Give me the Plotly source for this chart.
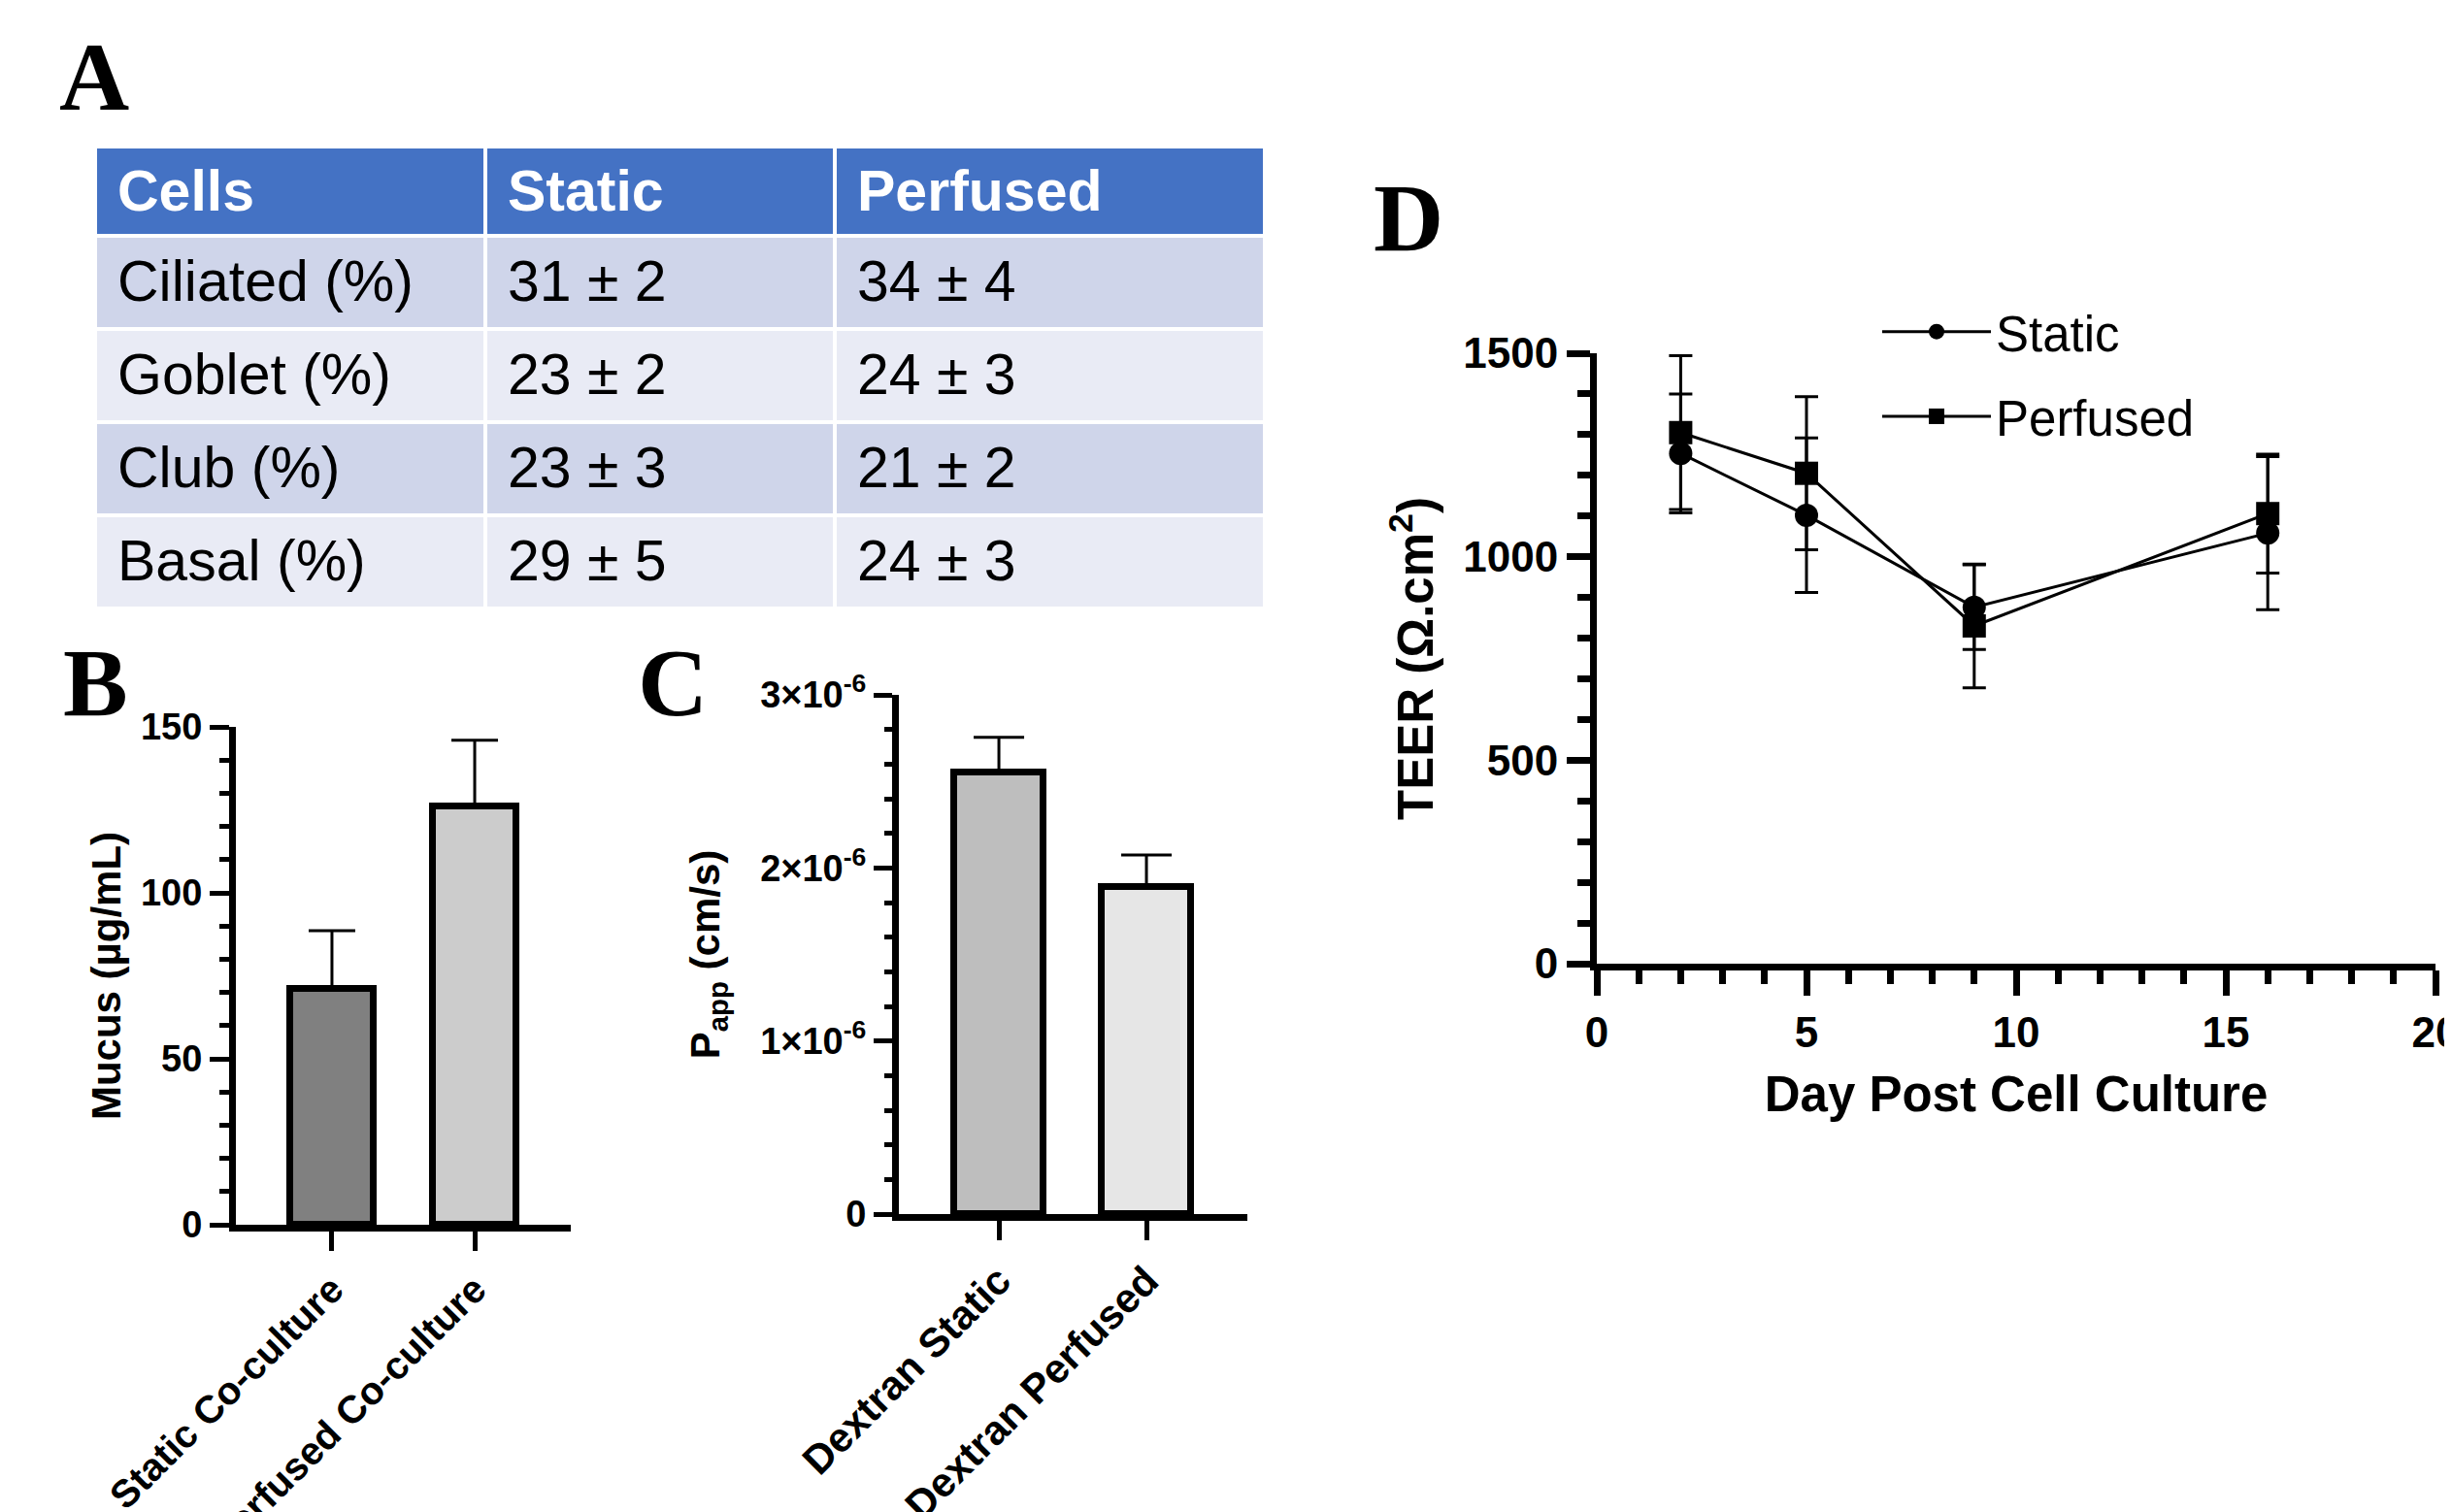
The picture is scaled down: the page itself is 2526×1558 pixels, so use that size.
import plotly.graph_objects as go

W, H = 2526, 1558

# ---------------- data ----------------
# Panel A (table)
table_header = ["Cells", "Static", "Perfused"]
cell_types = ["Ciliated (%)", "Goblet (%)", "Club (%)", "Basal (%)"]
static_pct = ["31 ± 2", "23 ± 2", "23 ± 3", "29 ± 5"]
perfused_pct = ["34 ± 4", "24 ± 3", "21 ± 2", "24 ± 3"]

# Panel B
mucus_groups = ["Static Co-culture", "Perfused Co-culture"]
mucus_mean = [71, 126]
mucus_sd = [17.6, 20]
mucus_ticks = [0, 50, 100, 150]

# Panel C
papp_groups = ["Dextran Static", "Dextran Perfused"]
papp_mean = [2.55e-6, 1.89e-6]
papp_sd = [0.205e-6, 0.185e-6]
papp_tickvals = [0, 1e-6, 2e-6, 3e-6]
papp_ticktext = ["0", "1×10<sup>-6</sup>", "2×10<sup>-6</sup>", "3×10<sup>-6</sup>"]

# Panel D
days = [2, 5, 9, 16]
teer_static = [1254, 1102, 876, 1058]
teer_static_sd = [146, 190, 104, 188]
teer_perfused = [1305, 1205, 830, 1106]
teer_perfused_sd = [189, 188, 152, 146]

# ---------------- helpers ----------------
SANS = "Liberation Sans, Arial, sans-serif"
SERIF = "Liberation Serif, Times New Roman, serif"
OFF = 8  # page body margin


def fx(px):
    return (px - OFF) / W


def fy(py):
    return 1 - (py - OFF) / H


fig = go.Figure()

# ---------------- Panel A: table ----------------
row_fill = ["#CFD5EA", "#E9EBF5", "#CFD5EA", "#E9EBF5"]
n_rows = len(cell_types)
col_w = [402, 360, 443]
# background layer: cell fills and white gaps
fig.add_trace(go.Table(
    domain=dict(x=[fx(98), fx(1303)], y=[fy(640), fy(151)]),
    columnwidth=col_w,
    header=dict(values=["" for _ in table_header], fill_color="#4472C4",
                line=dict(color="white", width=4), height=92),
    cells=dict(values=[["" for _ in range(n_rows)] for _ in table_header],
               fill_color=[row_fill] * len(table_header),
               line=dict(color="white", width=4), height=96),
))
# text layer (padded inside the cells)
fig.add_trace(go.Table(
    domain=dict(x=[fx(113), fx(1318)], y=[fy(650), fy(156)]),
    columnwidth=col_w,
    header=dict(
        values=[f"<b>{h}</b>" for h in table_header],
        fill_color="rgba(0,0,0,0)", line=dict(color="rgba(0,0,0,0)", width=0),
        align="left", font=dict(family=SANS, size=59, color="white"), height=102,
    ),
    cells=dict(
        values=[cell_types, static_pct, perfused_pct],
        fill_color="rgba(0,0,0,0)", line=dict(color="rgba(0,0,0,0)", width=0),
        align="left", font=dict(family=SANS, size=59, color="black"), height=96,
    ),
))

# ---------------- Panel B: mucus bars ----------------
fig.add_trace(go.Bar(
    x=mucus_groups, y=mucus_mean, xaxis="x", yaxis="y",
    width=0.585,
    marker=dict(color=["#808080", "#CCCCCC"], line=dict(color="black", width=7)),
    error_y=dict(type="data", symmetric=False, array=mucus_sd, arrayminus=[0, 0],
                 color="black", thickness=3, width=24),
    showlegend=False,
))

# ---------------- Panel C: Papp bars ----------------
fig.add_trace(go.Bar(
    x=papp_groups, y=papp_mean, xaxis="x2", yaxis="y2",
    width=0.6,
    marker=dict(color=["#BEBEBE", "#E6E6E6"], line=dict(color="black", width=7)),
    error_y=dict(type="data", symmetric=False, array=papp_sd, arrayminus=[0, 0],
                 color="black", thickness=3, width=26),
    showlegend=False,
))

# ---------------- Panel D: TEER lines ----------------
fig.add_trace(go.Scatter(
    x=days, y=teer_static, xaxis="x3", yaxis="y3", name="Static",
    mode="lines+markers", legendgroup="s",
    line=dict(color="black", width=3),
    marker=dict(symbol="circle", size=24, color="black"),
    error_y=dict(type="data", array=teer_static_sd, color="black", thickness=3, width=12),
))
fig.add_trace(go.Scatter(
    x=days, y=teer_perfused, xaxis="x3", yaxis="y3", name="Perfused",
    mode="lines+markers", legendgroup="p",
    line=dict(color="black", width=3),
    marker=dict(symbol="square", size=24, color="black"),
    error_y=dict(type="data", array=teer_perfused_sd, color="black", thickness=3, width=12),
))

bold = lambda s: dict(family=SANS, size=s, color="black", weight="bold")

axis_common = dict(showline=True, linecolor="black", showgrid=False, zeroline=False,
                   ticks="outside", tickcolor="black", automargin=False,
                   ticklabeloverflow="allow")

fig.update_layout(
    template="none",
    width=W, height=H,
    margin=dict(l=0, r=0, t=0, b=0, autoexpand=False),
    paper_bgcolor="white", plot_bgcolor="white",
    font=dict(family=SANS, color="black"),
    bargap=0,
    # Panel B
    xaxis=dict(**axis_common, domain=[fx(243), fx(588)], anchor="y", type="category",
               range=[-0.673, 1.673], linewidth=7, ticklen=20, tickwidth=5,
               tickangle=-45, tickfont=bold(40)),
    yaxis=dict(**axis_common, domain=[fy(1262), fy(749)], anchor="x",
               range=[0, 150], tickmode="array", tickvals=mucus_ticks,
               linewidth=7, ticklen=20, tickwidth=5, tickfont=bold(38),
               minor=dict(ticks="outside", tickmode="linear", tick0=0, dtick=10,
                          ticklen=10, tickwidth=5, tickcolor="black"),
               title=dict(text="Mucus (µg/mL)", font=bold(42), standoff=10)),
    # Panel C
    xaxis2=dict(**axis_common, domain=[fx(926), fx(1285)], anchor="y2", type="category",
                range=[-0.678, 1.684], linewidth=7, ticklen=20, tickwidth=5,
                tickangle=-45, tickfont=bold(42)),
    yaxis2=dict(**axis_common, domain=[fy(1251), fy(716)], anchor="x2",
                range=[0, 3e-6], tickmode="array", tickvals=papp_tickvals,
                ticktext=papp_ticktext, linewidth=7, ticklen=19, tickwidth=5,
                tickfont=bold(38),
                minor=dict(ticks="outside", tickmode="linear", tick0=0, dtick=2e-7,
                           ticklen=8, tickwidth=5, tickcolor="black"),
                title=dict(text="P<sub>app</sub> (cm/s)", font=bold(42), standoff=31)),
    # Panel D
    xaxis3=dict(**axis_common, domain=[fx(1645), fx(2509)], anchor="y3",
                range=[0, 20], tickmode="linear", tick0=0, dtick=5,
                linewidth=7, ticklen=26, tickwidth=7, tickfont=bold(44),
                minor=dict(ticks="outside", tickmode="linear", tick0=0, dtick=1,
                           ticklen=14, tickwidth=7, tickcolor="black"),
                title=dict(text="Day Post Cell Culture", font=bold(51), standoff=25)),
    yaxis3=dict(**axis_common, domain=[fy(993), fy(364)], anchor="x3",
                range=[0, 1500], tickmode="linear", tick0=0, dtick=500,
                linewidth=7, ticklen=24, tickwidth=7, tickfont=bold(44),
                minor=dict(ticks="outside", tickmode="linear", tick0=0, dtick=100,
                           ticklen=13, tickwidth=7, tickcolor="black"),
                title=dict(text="TEER (Ω.cm<sup>2</sup>)", font=bold(51), standoff=17)),
    legend=dict(x=fx(1934), y=fy(302), xanchor="left", yanchor="top",
                font=dict(family=SANS, size=51, color="black"),
                bgcolor="rgba(0,0,0,0)", borderwidth=0,
                tracegroupgap=18, itemwidth=112),
)

# Panel letters
for letter, px, py in [("A", 59, 79), ("B", 63, 703), ("C", 655, 703), ("D", 1413, 224)]:
    fig.add_annotation(text=f"<b>{letter}</b>", xref="paper", yref="paper",
                       x=fx(px), y=fy(py), xanchor="left", yanchor="middle",
                       showarrow=False, font=dict(family=SERIF, size=100, color="black"))

fig.write_html("out.html")
